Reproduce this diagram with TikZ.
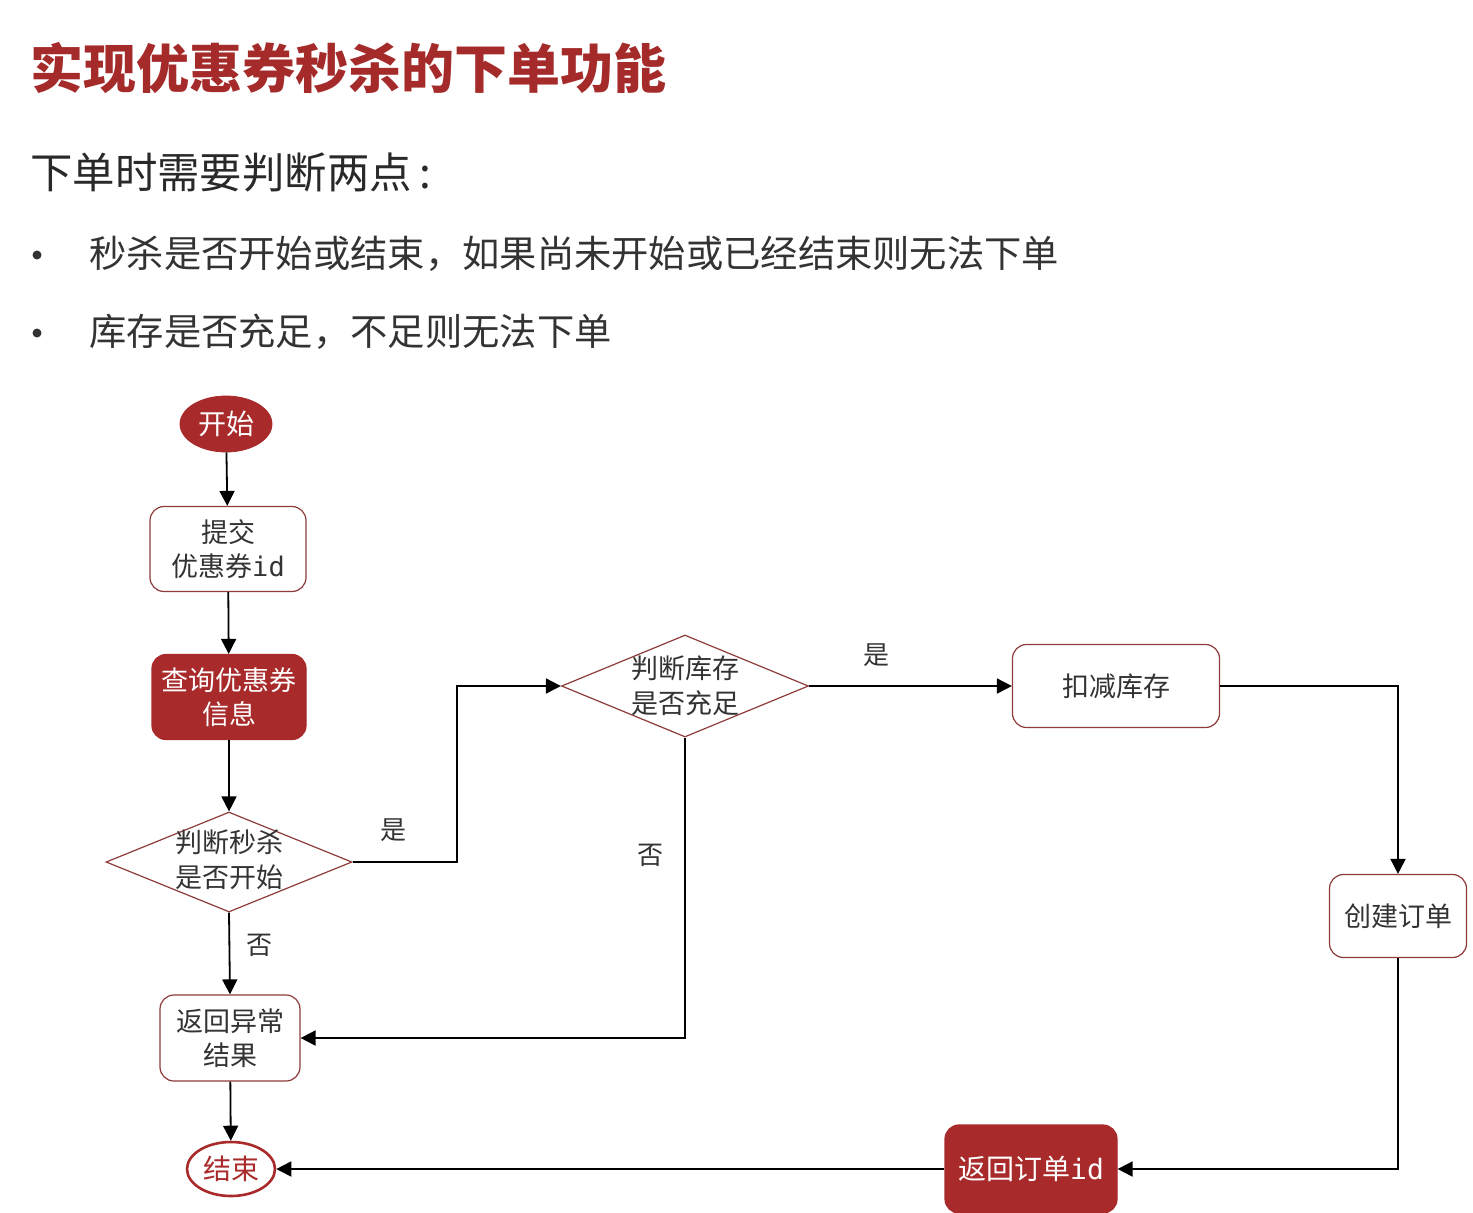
\documentclass[tikz,border=0pt]{standalone}
\usepackage{fontspec}
\setmainfont{Noto Sans CJK SC}
\newfontfamily\monoid{DejaVu Sans Mono}
\usetikzlibrary{shapes.geometric,arrows.meta}
\definecolor{brick}{HTML}{A82A2A}
\definecolor{titlered}{HTML}{A52B2B}
\definecolor{edgered}{HTML}{8E3B3B}
\definecolor{txt}{HTML}{333333}
\tikzset{
  px/.style={x=0.5pt,y=-0.5pt},
  arr/.style={line width=0.9pt,-{Triangle[length=7.5pt,width=7.5pt]}},
  wbox/.style={rectangle,rounded corners=7pt,draw=edgered,line width=0.6pt,fill=white,text=txt,align=center,inner sep=0pt,font=\fontsize{13.5}{16.8}\selectfont},
  rbox/.style={rectangle,rounded corners=7pt,draw=brick,line width=0.6pt,fill=brick,text=white,align=center,inner sep=0pt,font=\fontsize{13.5}{17}\selectfont},
  dshape/.style={diamond,draw=edgered,line width=0.6pt,fill=white,inner sep=0pt,shape aspect=2.45},
  dtext/.style={text=txt,align=center,inner sep=0pt,font=\fontsize{13.5}{17.5}\selectfont},
  lbl/.style={text=txt,inner sep=0pt,font=\fontsize{13}{15}\selectfont},
}
\begin{document}
\begin{tikzpicture}[px]
\useasboundingbox (0,0) rectangle (1473,1212);
\fill[white] (0,0) rectangle (1473,1212);
% header texts
\node[anchor=west,inner sep=0pt,text=titlered,font=\fontsize{26.5}{30}\selectfont\bfseries] (title) at (30,68) {实现优惠券秒杀的下单功能};
\node[anchor=west,inner sep=0pt,text=txt!80!black,font=\fontsize{21.2}{24}\selectfont] (sub) at (30,172) {下单时需要判断两点\,:};
\node[circle,fill=txt,inner sep=0pt,minimum size=4.5pt] (b1) at (37,255) {};
\node[anchor=west,inner sep=0pt,text=txt,font=\fontsize{18.65}{22}\selectfont] (t1) at (89,254) {秒杀是否开始或结束，如果尚未开始或已经结束则无法下单};
\node[circle,fill=txt,inner sep=0pt,minimum size=4.5pt] (b2) at (37,333) {};
\node[anchor=west,inner sep=0pt,text=txt,font=\fontsize{18.65}{22}\selectfont] (t2) at (89,332) {库存是否充足，不足则无法下单};
% nodes
\node[ellipse,fill=brick,draw=brick,text=white,minimum width=46pt,minimum height=28pt,inner sep=0pt,font=\fontsize{14}{16}\selectfont] (start) at (226,424) {开始};
\node[wbox,minimum width=78pt,minimum height=42.5pt] (submit) at (228,549) {提交\\优惠券{\monoid id}};
\node[rbox,minimum width=77pt,minimum height=42.5pt] (query) at (229,697) {查询优惠券\\信息};
\node[dshape,minimum width=123pt,minimum height=50pt] (d1) at (229,862) {};
\node[dtext] (d1t) at (229,860) {判断秒杀\\是否开始};
\node[wbox,minimum width=70pt,minimum height=43pt] (err) at (230,1038) {返回异常\\结果};
\node[ellipse,draw=brick,line width=1.3pt,fill=white,text=brick,minimum width=44pt,minimum height=27pt,inner sep=0pt,font=\fontsize{14}{16}\selectfont] (end) at (231,1169) {结束};
\node[dshape,minimum width=123.5pt,minimum height=51pt] (d2) at (685,686) {};
\node[dtext] (d2t) at (685,686) {判断库存\\是否充足};
\node[wbox,minimum width=103.5pt,minimum height=41.5pt] (deduct) at (1116,686) {扣减库存};
\node[wbox,minimum width=68.5pt,minimum height=41.5pt] (create) at (1398,916) {创建订单};
\node[rbox,minimum width=86pt,minimum height=44pt,font=\fontsize{14}{16}\selectfont] (retid) at (1031,1169) {返回订单{\monoid id}};
% edge labels
\node[lbl] (y1) at (393,830) {是};
\node[lbl] (y2) at (876,655) {是};
\node[lbl] (n1) at (259,945) {否};
\node[lbl] (n2) at (650,855) {否};
% connectors
\coordinate (k1) at (457,862);
\draw[arr] (start) -- (submit);
\draw[arr] (submit) -- (query);
\draw[arr] (query) -- (d1.north);
\draw[arr] (d1.south) -- (err.north);
\draw[arr] (err) -- (end);
\draw[arr] (d1.east) -- (k1) |- (d2.west);
\draw[arr] (d2.east) -- (deduct.west);
\draw[arr] (d2.south) |- (err.east);
\draw[arr] (deduct.east) -| (create.north);
\draw[arr] (create.south) |- (retid.east);
\draw[arr] (retid.west) -- (end.east);
\end{tikzpicture}
\end{document}
